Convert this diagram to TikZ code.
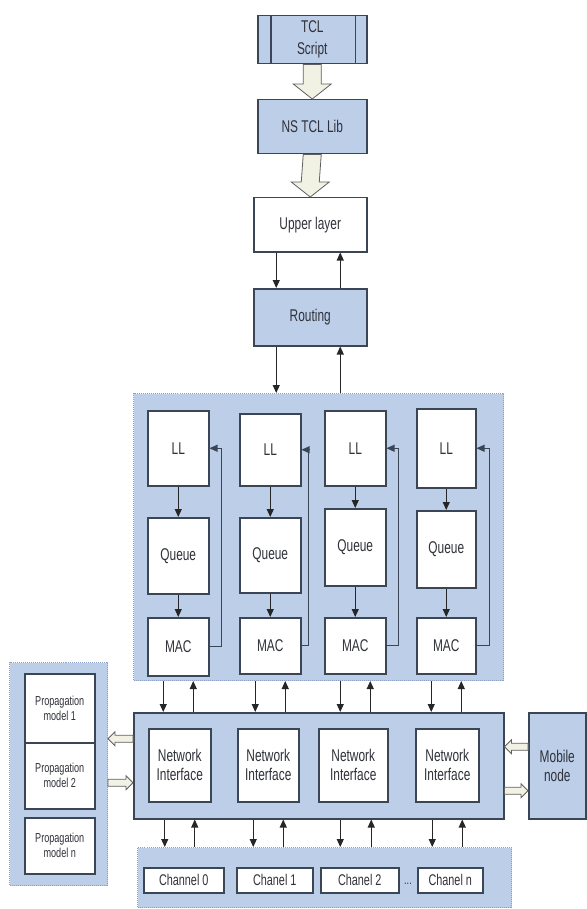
\documentclass[tikz,border=0pt]{standalone}
\usepackage{fontspec}
\setmainfont{Liberation Sans}[FakeStretch=0.7]
\usetikzlibrary{positioning,arrows.meta,calc}

\definecolor{panelblue}{RGB}{188,206,232}
\definecolor{boxline}{RGB}{58,70,86}
\definecolor{dotline}{RGB}{140,160,196}
\definecolor{cream}{RGB}{242,242,228}
\definecolor{txtgray}{RGB}{48,50,58}

\begin{document}
\begin{tikzpicture}[x=1pt,y=-1pt,
  font=\fontsize{17}{19}\selectfont,
  text=txtgray,
  box/.style={draw=boxline,line width=1.5pt,fill=white,inner sep=0pt,anchor=north west,align=center},
  bluebox/.style={box,fill=panelblue},
  panel/.style={draw=dotline,line width=1pt,dash pattern=on 1pt off 1pt,fill=panelblue,inner sep=0pt,anchor=north west},
  small/.style={font=\fontsize{13}{15}\selectfont},
  chan/.style={box,font=\fontsize{15.5}{16}\selectfont,minimum height=25},
  arr/.style={-{Triangle[length=8pt,width=7pt]},line width=1.1pt,draw=black!85},
  hollow/.style={draw=gray!75!black,line width=0.8pt,fill=cream}]
  \useasboundingbox (0,0) rectangle (586,909);

  % top of the stack
  \node[bluebox,minimum width=109,minimum height=48] (tcl) at (257,15) {TCL\\[3pt]Script};
  \draw[boxline,line width=1.2pt] ([xshift=14pt]tcl.north west) -- ([xshift=14pt]tcl.south west);
  \draw[boxline,line width=1.2pt] ([xshift=-12pt]tcl.north east) -- ([xshift=-12pt]tcl.south east);
  \node[bluebox,minimum width=109,minimum height=54] (nslib) at (257,99) {NS TCL Lib};
  \node[box,minimum width=113,minimum height=54] (upper) at (253,197) {Upper layer};
  \node[bluebox,minimum width=113,minimum height=57] (routing) at (253,288) {Routing};

  % link layer panel
  \node[panel,minimum width=370,minimum height=287] (macpanel) at (133,393) {};
  \node[box,minimum width=61,minimum height=75] (ll1) at (147,410) {LL};
  \node[box,minimum width=61,minimum height=76] (q1) at (147,517) {Queue};
  \node[box,minimum width=61,minimum height=58] (mac1) at (147,617) {MAC};
  \node[box,minimum width=61,minimum height=72] (ll2) at (239,413) {LL};
  \node[box,minimum width=61,minimum height=75] (q2) at (239,517) {Queue};
  \node[box,minimum width=61,minimum height=56] (mac2) at (239,617) {MAC};
  \node[box,minimum width=61,minimum height=75] (ll3) at (324,410) {LL};
  \node[box,minimum width=61,minimum height=77] (q3) at (324,508) {Queue};
  \node[box,minimum width=61,minimum height=56] (mac3) at (324,617) {MAC};
  \node[box,minimum width=59,minimum height=79] (ll4) at (416,408) {LL};
  \node[box,minimum width=59,minimum height=77] (q4) at (416,510) {Queue};
  \node[box,minimum width=59,minimum height=56] (mac4) at (416,617) {MAC};

  % network interfaces
  \node[bluebox,minimum width=370,minimum height=106] (nipanel) at (133,712) {};
  \node[box,minimum width=62,minimum height=73] (ni1) at (148,728) {Network\\Interface};
  \node[box,minimum width=61,minimum height=73] (ni2) at (237,728) {Network\\Interface};
  \node[box,minimum width=69,minimum height=73] (ni3) at (318,728) {Network\\Interface};
  \node[box,minimum width=63,minimum height=73] (ni4) at (415,728) {Network\\Interface};
  \node[bluebox,minimum width=57,minimum height=106] (mobile) at (528,712) {Mobile\\node};

  % propagation models
  \node[panel,minimum width=98,minimum height=223] (proppanel) at (9,662) {};
  \node[box,small,minimum width=70,minimum height=69] (prop1) at (24,673) {Propagation\\model 1};
  \node[box,small,minimum width=70,minimum height=66] (prop2) at (24,742) {Propagation\\model 2};
  \node[box,small,minimum width=70,minimum height=56] (propn) at (24,817) {Propagation\\model n};

  % channels
  \node[panel,minimum width=374,minimum height=60] (chpanel) at (137,847) {};
  \node[chan,minimum width=80] (ch0) at (143,867) {Channel 0};
  \node[chan,minimum width=76] (ch1) at (236,867) {Chanel 1};
  \node[chan,minimum width=78] (ch2) at (320,867) {Chanel 2};
  \node[chan,minimum width=65] (chn) at (417,867) {Chanel n};
  \node[small,inner sep=0pt] (dots) at (408,884) {...};

  % hollow arrows
  \draw[hollow] ($(tcl.south)+(-9,0)$) -- ($(nslib.north)+(-9,-15)$) -- ($(nslib.north)+(-19,-15)$) -- (nslib.north)
    -- ($(nslib.north)+(19,-15)$) -- ($(nslib.north)+(9,-15)$) -- ($(tcl.south)+(9,0)$) -- cycle;
  \draw[hollow] ($(nslib.south)+(-9,0)$) -- ($(upper.north)+(-9,-15)$) -- ($(upper.north)+(-19,-15)$) -- (upper.north)
    -- ($(upper.north)+(19,-15)$) -- ($(upper.north)+(9,-15)$) -- ($(nslib.south)+(9,0)$) -- cycle;

  \coordinate (lu) at ([yshift=27pt]nipanel.west);
  \coordinate (ll) at ([yshift=-17pt]nipanel.west);
  \coordinate (ru) at ([yshift=19pt]nipanel.east);
  \coordinate (rl) at ([yshift=-25pt]nipanel.east);
  \coordinate (lut) at (lu -| proppanel.east);
  \coordinate (llt) at (ll -| proppanel.east);
  \coordinate (rut) at (ru -| mobile.west);
  \coordinate (rlt) at (rl -| mobile.west);
  \draw[hollow] ($(lu)+(0,-3.5)$) -- ($(lut)+(7,-3.5)$) -- ($(lut)+(7,-7)$) -- (lut) -- ($(lut)+(7,7)$) -- ($(lut)+(7,3.5)$) -- ($(lu)+(0,3.5)$) -- cycle;
  \draw[hollow] ($(llt)+(0,-3.5)$) -- ($(ll)+(-7,-3.5)$) -- ($(ll)+(-7,-7)$) -- (ll) -- ($(ll)+(-7,7)$) -- ($(ll)+(-7,3.5)$) -- ($(llt)+(0,3.5)$) -- cycle;
  \draw[hollow] ($(rut)+(0,-3.5)$) -- ($(ru)+(7,-3.5)$) -- ($(ru)+(7,-7)$) -- (ru) -- ($(ru)+(7,7)$) -- ($(ru)+(7,3.5)$) -- ($(rut)+(0,3.5)$) -- cycle;
  \draw[hollow] ($(rl)+(0,-3.5)$) -- ($(rlt)+(-7,-3.5)$) -- ($(rlt)+(-7,-7)$) -- (rlt) -- ($(rlt)+(-7,7)$) -- ($(rlt)+(-7,3.5)$) -- ($(rl)+(0,3.5)$) -- cycle;

  % signal arrows
  \draw[arr] ([xshift=-34pt]upper.south) -- ([xshift=-34pt]routing.north);
  \draw[arr] ([xshift=30pt]routing.north) -- ([xshift=30pt]upper.south);
  \draw[arr] ([xshift=-34pt]routing.south) -- ([xshift=-34pt]routing.south |- macpanel.north);
  \draw[arr] ([xshift=30pt]routing.south |- macpanel.north) -- ([xshift=30pt]routing.south);

  \draw[arr] (ll1) -- (q1); \draw[arr] (q1) -- (mac1);
  \draw[arr] (ll2) -- (q2); \draw[arr] (q2) -- (mac2);
  \draw[arr] (ll3) -- (q3); \draw[arr] (q3) -- (mac3);
  \draw[arr] (ll4) -- (q4); \draw[arr] (q4) -- (mac4);
  \draw[arr,draw=boxline] (mac1.east) -- ++(12,0) |- (ll1.east);
  \draw[arr,draw=boxline] (mac2.east) -- ++(7,0) |- (ll2.east);
  \draw[arr,draw=boxline] (mac3.east) -- ++(12,0) |- (ll3.east);
  \draw[arr,draw=boxline] (mac4.east) -- ++(13,0) |- (ll4.east);

  \draw[arr] ([xshift=-15pt]mac1.south |- macpanel.south) -- ([xshift=-15pt]mac1.south |- nipanel.north);
  \draw[arr] ([xshift=15pt]mac1.south |- nipanel.north) -- ([xshift=15pt]mac1.south |- macpanel.south);
  \draw[arr] ([xshift=-15pt]mac2.south |- macpanel.south) -- ([xshift=-15pt]mac2.south |- nipanel.north);
  \draw[arr] ([xshift=15pt]mac2.south |- nipanel.north) -- ([xshift=15pt]mac2.south |- macpanel.south);
  \draw[arr] ([xshift=-15pt]mac3.south |- macpanel.south) -- ([xshift=-15pt]mac3.south |- nipanel.north);
  \draw[arr] ([xshift=15pt]mac3.south |- nipanel.north) -- ([xshift=15pt]mac3.south |- macpanel.south);
  \draw[arr] ([xshift=-15pt]mac4.south |- macpanel.south) -- ([xshift=-15pt]mac4.south |- nipanel.north);
  \draw[arr] ([xshift=15pt]mac4.south |- nipanel.north) -- ([xshift=15pt]mac4.south |- macpanel.south);

  \draw[arr] ([xshift=-15pt]ni1.south |- nipanel.south) -- ([xshift=-15pt]ni1.south |- chpanel.north);
  \draw[arr] ([xshift=15pt]ni1.south |- chpanel.north) -- ([xshift=15pt]ni1.south |- nipanel.south);
  \draw[arr] ([xshift=-15pt]ni2.south |- nipanel.south) -- ([xshift=-15pt]ni2.south |- chpanel.north);
  \draw[arr] ([xshift=15pt]ni2.south |- chpanel.north) -- ([xshift=15pt]ni2.south |- nipanel.south);
  \draw[arr] ([xshift=-13pt]ni3.south |- nipanel.south) -- ([xshift=-13pt]ni3.south |- chpanel.north);
  \draw[arr] ([xshift=18pt]ni3.south |- chpanel.north) -- ([xshift=18pt]ni3.south |- nipanel.south);
  \draw[arr] ([xshift=-15pt]ni4.south |- nipanel.south) -- ([xshift=-15pt]ni4.south |- chpanel.north);
  \draw[arr] ([xshift=15pt]ni4.south |- chpanel.north) -- ([xshift=15pt]ni4.south |- nipanel.south);
\end{tikzpicture}
\end{document}
